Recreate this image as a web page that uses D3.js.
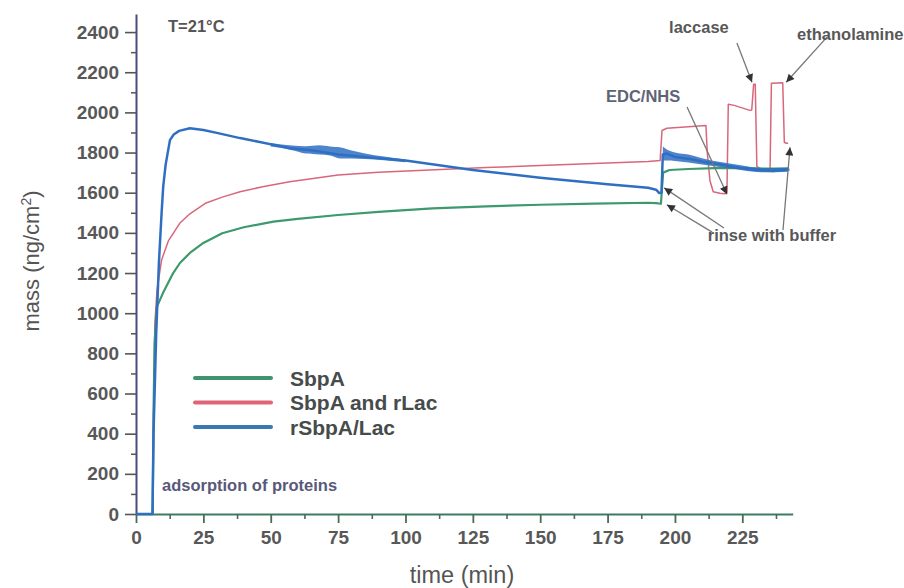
<!DOCTYPE html>
<html><head><meta charset="utf-8">
<script src="https://cdn.jsdelivr.net/npm/d3@7/dist/d3.min.js"></script>
<style>
html,body{margin:0;padding:0;background:#fff;}
svg{display:block;font-family:"Liberation Sans",Arial,sans-serif;}
</style></head>
<body><svg id="c" width="904" height="588"></svg>
<script>
// ---- data (time in min, mass in ng/cm^2) ----
const xTicks = [0,25,50,75,100,125,150,175,200,225];
const xMinor = [12.5,37.5,62.5,87.5,112.5,137.5,162.5,187.5,212.5,237.5];
const yTicks = [0,200,400,600,800,1000,1200,1400,1600,1800,2000,2200,2400];
const yMinor = [100,300,500,700,900,1100,1300,1500,1700,1900,2100,2300];

const seriesNames = ["SbpA","SbpA and rLac","rSbpA/Lac"];

const sbpA = [[0,0],[6.2,0],[6.5,500],[6.9,850],[7.7,1030],[10,1100],[13.8,1200],[16.3,1250],[20,1300],[25,1350],[32,1398],[40,1428],[51,1456],[60,1470],[75,1489],[90,1505],[110,1522],[130,1532],[150,1540],[170,1546],[190,1550],[193,1548],[194.8,1545],[195.6,1700],[198,1713],[205,1718],[215,1722],[225,1722],[235,1720],[242,1720]];

const sbpARLac = [[0,0],[6.3,0],[6.6,600],[7,950],[7.8,1115],[9.5,1265],[12,1360],[16.3,1449],[20,1495],[26,1549],[32,1578],[38.6,1605],[47,1630],[57,1655],[75,1688],[90,1702],[109,1713],[130,1725],[150,1735],[170,1745],[190,1755],[194.5,1760],[195.2,1910],[197,1921],[205,1928],[211.5,1935],[212,1800],[213,1660],[214.2,1605],[216.7,1597],[218.5,1595],[219.3,1600],[219.8,2040],[222,2035],[227.8,2010],[228.5,2012],[229.2,2140],[229.8,2140],[230.4,1730],[232,1718],[235.3,1718],[235.8,2145],[240,2148],[240.6,1850],[241.5,1846],[242,1846]];

const rSbpALac = [[0,0],[6.1,0],[6.5,400],[7.5,900],[8.5,1250],[9.5,1500],[10.1,1630],[11,1740],[12.6,1862],[14,1890],[16,1908],[20,1921],[25,1912],[30,1898],[38.6,1872],[45,1855],[57,1822],[65,1812],[75,1790],[85,1778],[100,1760],[125,1713],[150,1675],[175,1642],[190,1625],[193,1615],[194.2,1598],[195,1600],[195.5,1790],[197,1795],[200,1778],[205.6,1768],[210,1755],[218,1738],[225,1722],[230,1713],[236.4,1708],[242.5,1715]];

// noise band of rSbpA/Lac: [time, low, high]
const blueNoiseA = [[50,1830,1848],[58,1812,1835],[63,1795,1832],[68,1790,1836],[72,1785,1830],[76,1770,1825],[80,1770,1810],[85,1768,1795],[92,1762,1780],[100,1752,1766]];
const blueNoiseB = [[195.5,1760,1830],[197,1760,1815],[200,1758,1800],[205,1750,1790],[210,1740,1772],[218,1725,1750],[225,1712,1735],[232,1702,1722],[242,1705,1725]];

// annotation arrows: [fromTime, fromMass, toTime, toMass]
const arrows = [
  [223.0,2346,228.6,2150],
  [256.4,2375,241.3,2150],
  [204.5,2027,219.3,1592],
  [218.2,1424,196.0,1624],
  [213.8,1404,197.0,1540],
  [240.1,1414,242.7,1826]
];
// annotation labels: [text, time, mass, anchor]
const labels = [
  ["laccase",208.9,2395,"middle"],
  ["ethanolamine",284.8,2360,"end"],
  ["EDC/NHS",188.2,2052,"middle"],
  ["rinse with buffer",236.0,1360,"middle"]
];

// ---- drawing ----
const svg = d3.select("#c");
const x = d3.scaleLinear().domain([0,243.7]).range([136,792.7]);
const y = d3.scaleLinear().domain([0,2490]).range([514,14]);
const colors = ["#3c9a6c","#d9677a","#2f6fc2"];
const legendColors = ["#3f9470","#e06478","#3a78b4"];

const defs = svg.append("defs");
defs.append("marker").attr("id","ah").attr("viewBox","0 0 10 10").attr("refX",10).attr("refY",5)
  .attr("markerWidth",11).attr("markerHeight",8).attr("markerUnits","userSpaceOnUse").attr("orient","auto")
  .append("path").attr("d","M0,0L10,5L0,10Z").attr("fill","#333");

// y axis
const gy = svg.append("g").attr("transform","translate(136,0)");
gy.call(d3.axisLeft(y).tickValues(yTicks).tickSize(11).tickPadding(6).tickSizeOuter(0).tickFormat(d3.format("d")));
gy.select(".domain").attr("stroke","#4b4b7e").attr("stroke-width",2);
gy.selectAll(".tick line").attr("stroke","#555").attr("stroke-width",1.6);
gy.selectAll(".tick text").attr("fill","#585858").attr("font-size",19).attr("font-weight","bold")
  .attr("font-family","'Liberation Sans',Arial,sans-serif");
const gym = svg.append("g").attr("transform","translate(136,0)");
gym.call(d3.axisLeft(y).tickValues(yMinor).tickSize(5).tickFormat(""));
gym.select(".domain").remove();
gym.selectAll(".tick line").attr("stroke","#555").attr("stroke-width",1.5);

// x axis
const gx = svg.append("g").attr("transform","translate(0,514)");
gx.call(d3.axisBottom(x).tickValues(xTicks).tickSize(9).tickPadding(8).tickSizeOuter(0));
gx.select(".domain").attr("stroke","#3f7a62").attr("stroke-width",2.2);
gx.selectAll(".tick line").attr("stroke","#4a6a5a").attr("stroke-width",1.8);
gx.selectAll(".tick text").attr("fill","#585858").attr("font-size",19).attr("font-weight","bold")
  .attr("font-family","'Liberation Sans',Arial,sans-serif");
const gxm = svg.append("g").attr("transform","translate(0,514)");
gxm.call(d3.axisBottom(x).tickValues(xMinor).tickSize(5).tickFormat(""));
gxm.select(".domain").remove();
gxm.selectAll(".tick line").attr("stroke","#4a6a5a").attr("stroke-width",1.6);

// axis titles
svg.append("text").attr("x",462).attr("y",583).attr("text-anchor","middle")
  .attr("font-size",23.5).attr("fill","#555").text("time (min)");
const yl = svg.append("text").attr("transform","translate(39,261) rotate(-90)").attr("text-anchor","middle")
  .attr("font-size",22).attr("fill","#555");
yl.append("tspan").text("mass (ng/cm");
yl.append("tspan").attr("font-size",14).attr("dy",-8).text("2");
yl.append("tspan").attr("dy",8).text(")");

// data
const area = d3.area().x(d=>x(d[0])).y0(d=>y(d[1])).y1(d=>y(d[2])).curve(d3.curveMonotoneX);
const curveLine = d3.line().x(d=>x(d[0])).y(d=>y(d[1]));

svg.append("path").attr("d",curveLine(sbpARLac)).attr("fill","none").attr("stroke",colors[1]).attr("stroke-width",1.5).attr("stroke-linejoin","round");
svg.append("path").attr("d",curveLine(sbpA)).attr("fill","none").attr("stroke",colors[0]).attr("stroke-width",2.2).attr("stroke-linejoin","round");
[blueNoiseA,blueNoiseB].forEach(b=>{
  svg.append("path").attr("d",area(b)).attr("fill",colors[2]).attr("fill-opacity",0.85);
});
svg.append("path").attr("d",curveLine(rSbpALac)).attr("fill","none").attr("stroke",colors[2]).attr("stroke-width",2.5).attr("stroke-linejoin","round");

// annotations
arrows.forEach(a=>{
  svg.append("line").attr("x1",x(a[0])).attr("y1",y(a[1])).attr("x2",x(a[2])).attr("y2",y(a[3]))
    .attr("stroke","#777").attr("stroke-width",1.3).attr("marker-end","url(#ah)");
});
labels.forEach(l=>{
  svg.append("text").attr("x",x(l[1])).attr("y",y(l[2])).attr("text-anchor",l[3])
    .attr("font-size",16.5).attr("font-weight","bold").attr("fill", l[0]==="EDC/NHS" ? "#5e6474" : "#585858").text(l[0]);
});
svg.append("text").attr("x",168).attr("y",32).attr("font-size",16.5).attr("font-weight","bold").attr("fill","#555").text("T=21°C");
svg.append("text").attr("x",162).attr("y",491).attr("font-size",16.5).attr("font-weight","bold").attr("fill","#58587a").text("adsorption of proteins");

// legend
const leg = svg.append("g");
seriesNames.forEach((n,i)=>{
  const yy = 378 + i*24.5;
  leg.append("line").attr("x1",195).attr("x2",271).attr("y1",yy).attr("y2",yy).attr("stroke",legendColors[i]).attr("stroke-width",4).attr("stroke-linecap","round");
  leg.append("text").attr("x",290).attr("y",yy+7.5).attr("font-size",21).attr("font-weight","bold").attr("fill","#464b4b").text(n);
});
</script></body></html>
